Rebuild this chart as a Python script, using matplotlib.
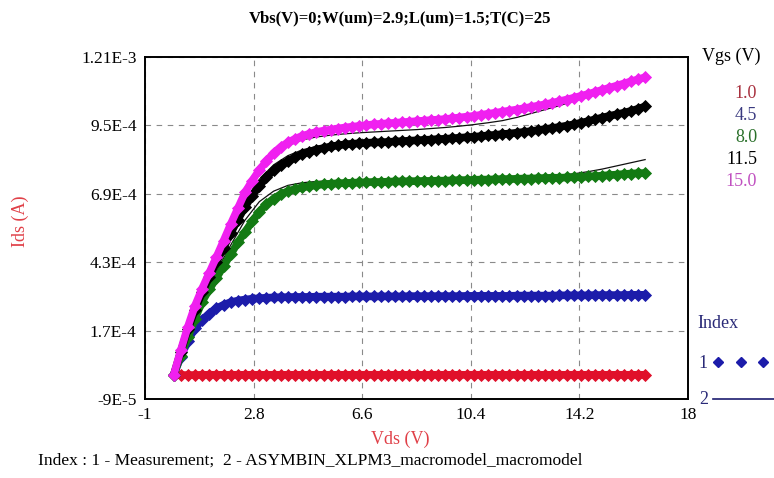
import numpy as np
import matplotlib
matplotlib.use("Agg")
import matplotlib.pyplot as plt
from matplotlib.lines import Line2D

plt.rcParams['font.family'] = ['Liberation Serif', 'DejaVu Serif']

# ---- measured Ids-Vds sweeps (Ids in units of 1e-4 A), Vds step 0.25 V ----
vds_meas = np.round(np.arange(0.0, 16.51, 0.25), 2)

ids_vgs_1_0 = [0.00, 0.01, 0.01, 0.01, 0.02, 0.02, 0.02, 0.02, 0.02, 0.02,
               0.02, 0.02, 0.02, 0.02, 0.02, 0.02, 0.02, 0.02, 0.02, 0.02,
               0.02, 0.02, 0.02, 0.02, 0.02, 0.02, 0.02, 0.02, 0.02, 0.02,
               0.02, 0.02, 0.02, 0.02, 0.02, 0.02, 0.02, 0.02, 0.02, 0.02,
               0.02, 0.02, 0.02, 0.02, 0.02, 0.02, 0.02, 0.02, 0.02, 0.02,
               0.02, 0.02, 0.02, 0.02, 0.02, 0.02, 0.02, 0.02, 0.02, 0.02,
               0.02, 0.02, 0.02, 0.02, 0.02, 0.02, 0.02]

ids_vgs_4_5 = [0.00, 0.70, 1.30, 1.80, 2.10, 2.35, 2.55, 2.68, 2.78, 2.84,
               2.88, 2.91, 2.93, 2.95, 2.96, 2.97, 2.97, 2.98, 2.98, 2.98,
               2.99, 2.99, 2.99, 2.99, 2.99, 3.00, 3.00, 3.00, 3.00, 3.00,
               3.00, 3.00, 3.00, 3.01, 3.01, 3.01, 3.01, 3.01, 3.01, 3.01,
               3.01, 3.02, 3.02, 3.02, 3.02, 3.02, 3.02, 3.02, 3.03, 3.03,
               3.03, 3.03, 3.03, 3.03, 3.04, 3.04, 3.04, 3.04, 3.04, 3.05,
               3.05, 3.05, 3.05, 3.05, 3.06, 3.06, 3.06]

ids_vgs_8_0 = [0.00, 0.75, 1.45, 2.15, 2.80, 3.27, 3.70, 4.15, 4.60, 5.05,
               5.45, 5.85, 6.22, 6.50, 6.72, 6.88, 7.00, 7.08, 7.14, 7.19,
               7.23, 7.26, 7.28, 7.30, 7.31, 7.32, 7.33, 7.34, 7.35, 7.35,
               7.36, 7.37, 7.37, 7.38, 7.38, 7.39, 7.39, 7.40, 7.40, 7.41,
               7.42, 7.42, 7.43, 7.44, 7.44, 7.45, 7.46, 7.46, 7.47, 7.48,
               7.48, 7.49, 7.50, 7.51, 7.51, 7.52, 7.53, 7.54, 7.56, 7.57,
               7.59, 7.61, 7.63, 7.65, 7.67, 7.68, 7.69]

ids_vgs_11_5 = [0.00, 0.90, 1.75, 2.50, 3.15, 3.75, 4.30, 4.85, 5.40, 5.92,
                6.40, 6.83, 7.20, 7.52, 7.80, 8.00, 8.15, 8.29, 8.40, 8.50,
                8.58, 8.64, 8.70, 8.74, 8.78, 8.80, 8.82, 8.84, 8.85, 8.86,
                8.87, 8.89, 8.90, 8.92, 8.93, 8.95, 8.96, 8.98, 8.99, 9.01,
                9.03, 9.05, 9.07, 9.09, 9.12, 9.14, 9.17, 9.19, 9.22, 9.25,
                9.28, 9.32, 9.36, 9.40, 9.44, 9.49, 9.54, 9.60, 9.66, 9.73,
                9.80, 9.86, 9.92, 9.98, 10.05, 10.13, 10.22]

ids_vgs_15_0 = [0.00, 0.95, 1.85, 2.65, 3.30, 3.90, 4.50, 5.12, 5.75, 6.35,
                6.95, 7.40, 7.80, 8.15, 8.45, 8.68, 8.85, 8.99, 9.10, 9.18,
                9.25, 9.30, 9.34, 9.38, 9.42, 9.45, 9.48, 9.51, 9.54, 9.56,
                9.58, 9.60, 9.62, 9.64, 9.66, 9.68, 9.70, 9.72, 9.74, 9.77,
                9.80, 9.83, 9.86, 9.90, 9.94, 9.98, 10.02, 10.06, 10.10, 10.15,
                10.20, 10.25, 10.30, 10.36, 10.42, 10.48, 10.55, 10.62, 10.69, 10.77,
                10.85, 10.93, 11.01, 11.09, 11.17, 11.25, 11.33]

# ---- macromodel simulation (Ids in units of 1e-4 A), Vds step 0.5 V ----
vds_model = np.round(np.arange(0.0, 16.51, 0.5), 2)

sim_vgs_1_0 = [0.00, 0.01, 0.02, 0.02, 0.02, 0.02, 0.02, 0.02, 0.02, 0.02,
               0.02, 0.02, 0.02, 0.02, 0.02, 0.02, 0.02, 0.02, 0.02, 0.02,
               0.02, 0.02, 0.02, 0.02, 0.02, 0.02, 0.02, 0.02, 0.02, 0.02,
               0.02, 0.02, 0.02, 0.02]

sim_vgs_4_5 = [0.00, 1.32, 2.12, 2.56, 2.78, 2.88, 2.93, 2.96, 2.97, 2.98,
               2.99, 2.99, 3.00, 3.00, 3.00, 3.00, 3.01, 3.01, 3.01, 3.01,
               3.02, 3.02, 3.02, 3.03, 3.03, 3.03, 3.04, 3.04, 3.04, 3.05,
               3.05, 3.05, 3.06, 3.06]

sim_vgs_8_0 = [0.00, 1.50, 2.90, 3.95, 4.95, 5.90, 6.60, 7.00, 7.22, 7.32,
               7.37, 7.39, 7.40, 7.41, 7.41, 7.42, 7.42, 7.43, 7.43, 7.44,
               7.45, 7.46, 7.47, 7.48, 7.50, 7.53, 7.56, 7.61, 7.66, 7.74,
               7.84, 7.96, 8.08, 8.20]

sim_vgs_11_5 = [0.00, 1.80, 3.25, 4.45, 5.60, 6.65, 7.45, 8.00, 8.35, 8.57,
                8.70, 8.79, 8.85, 8.89, 8.92, 8.94, 8.96, 8.98, 9.00, 9.03,
                9.06, 9.10, 9.15, 9.20, 9.26, 9.33, 9.41, 9.50, 9.60, 9.71,
                9.83, 9.96, 10.10, 10.25]

sim_vgs_15_0 = [0.00, 1.90, 3.35, 4.55, 5.80, 6.95, 7.75, 8.35, 8.72, 8.95,
                9.06, 9.13, 9.18, 9.22, 9.25, 9.28, 9.31, 9.34, 9.38, 9.42,
                9.47, 9.53, 9.60, 9.68, 9.80, 9.95, 10.10, 10.25, 10.42, 10.60,
                10.80, 10.98, 11.15, 11.30]

vgs_labels = ["1.0", "4.5", "8.0", "11.5", "15.0"]
meas_series = [ids_vgs_1_0, ids_vgs_4_5, ids_vgs_8_0, ids_vgs_11_5, ids_vgs_15_0]
sim_series = [sim_vgs_1_0, sim_vgs_4_5, sim_vgs_8_0, sim_vgs_11_5, sim_vgs_15_0]
curve_colors = ["#e0102a", "#1c1caa", "#137a13", "#000000", "#f020f0"]
label_colors = ["#a8303e", "#3a3a80", "#2a702a", "#000000", "#c050c0"]

x_ticks = [-1, 2.8, 6.6, 10.4, 14.2, 18]
x_tick_labels = ["-1", "2.8", "6.6", "10.4", "14.2", "18"]
y_ticks = [-9e-5, 1.7e-4, 4.3e-4, 6.9e-4, 9.5e-4, 1.21e-3]
y_tick_labels = ["-9E-5", "1.7E-4", "4.3E-4", "6.9E-4", "9.5E-4", "1.21E-3"]

UNIT = 1e-4

fig = plt.figure(figsize=(7.74, 4.78), dpi=100)
fig.patch.set_facecolor("white")
ax = fig.add_axes([145 / 774, 1 - 399 / 478, (688 - 145) / 774, (399 - 57) / 478])

# model lines underneath, measured points (dense diamonds) on top
for sim in sim_series:
    ax.plot(vds_model, np.array(sim) * UNIT, color="#101010", lw=0.9, zorder=2)
for meas, col in zip(meas_series, curve_colors):
    y = np.array(meas) * UNIT
    ax.plot(vds_meas, y, color=col, lw=5.5, solid_capstyle="round",
            solid_joinstyle="round", zorder=3)
    ax.plot(vds_meas, y, linestyle="none", marker="D",
            markersize=6.5, markerfacecolor=col, markeredgecolor=col,
            markeredgewidth=0.6, zorder=3)

ax.set_xlim(-1, 18)
ax.set_ylim(-9e-5, 1.21e-3)
ax.set_xticks(x_ticks)
ax.set_xticklabels(x_tick_labels)
ax.set_yticks(y_ticks)
ax.set_yticklabels(y_tick_labels)
ax.tick_params(axis="both", length=0, labelsize=12.5, pad=6)
ax.grid(True, color="#8a8a8a", linestyle=(0, (5, 5)), linewidth=0.8)
for sp in ax.spines.values():
    sp.set_linewidth(1.4)
    sp.set_color("black")

ax.set_xlabel("Vds (V)", color="#e04048", fontsize=13)
ax.xaxis.set_label_coords(0.47, -0.092)
ax.set_ylabel("Ids (A)", color="#e04048", fontsize=13)
ax.yaxis.set_label_coords(-0.213, 0.52)

fig.text(400 / 774, 1 - 18 / 478, "Vbs(V)=0;W(um)=2.9;L(um)=1.5;T(C)=25",
         ha="center", va="center", fontsize=12, fontweight="bold")

# Vgs legend on the right
fig.text(731 / 774, 1 - 56 / 478, "Vgs (V)", ha="center", va="center", fontsize=13)
legend_y = [93, 115, 137, 160, 182]
for txt, col, yy in zip(vgs_labels, label_colors, legend_y):
    fig.text(757 / 774, 1 - yy / 478, txt, ha="right", va="center",
             fontsize=13, color=col)

# Index legend
fig.text(697 / 774, 1 - 324 / 478, "Index", ha="left", va="center",
         fontsize=13, color="#2a2a78")
fig.text(698 / 774, 1 - 363 / 478, "1", ha="left", va="center",
         fontsize=13, color="#2a2a78")
fig.text(699 / 774, 1 - 400 / 478, "2", ha="left", va="center",
         fontsize=13, color="#2a2a78")
fig.add_artist(Line2D([718 / 774, 741 / 774, 763 / 774], [1 - 362 / 478] * 3,
                      linestyle="none", marker="D", markersize=5,
                      color="#1c1caa", transform=fig.transFigure))
fig.add_artist(Line2D([713 / 774, 774 / 774], [1 - 399 / 478] * 2,
                      color="#1c1c70", lw=1.2, transform=fig.transFigure))

fig.text(38 / 774, 1 - 461 / 478,
         "Index : 1 - Measurement;  2 - ASYMBIN_XLPM3_macromodel_macromodel",
         ha="left", va="center", fontsize=12.5)

fig.savefig("out.png", dpi=100, facecolor="white")
